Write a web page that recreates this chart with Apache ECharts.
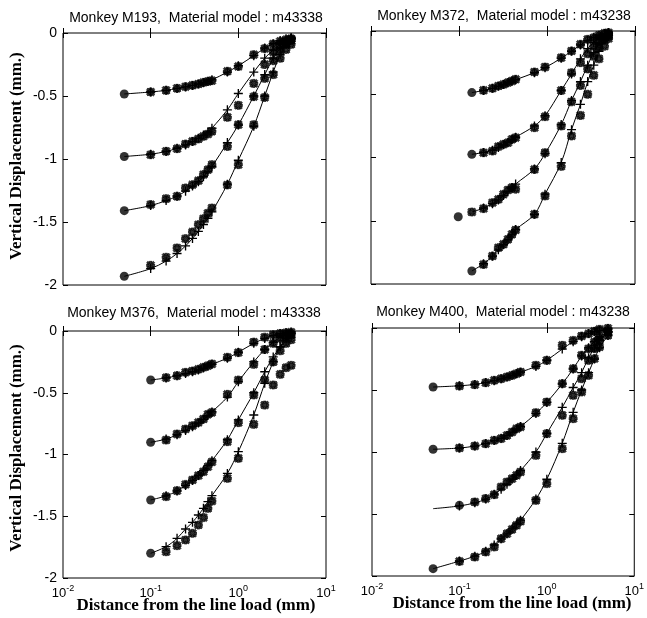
<!DOCTYPE html>
<html>
<head>
<meta charset="utf-8">
<script src="https://cdn.jsdelivr.net/npm/echarts@6/dist/echarts.min.js"></script>
<style>
  html, body { margin: 0; padding: 0; background: #fff; }
  #chart { width: 647px; height: 618px; }
</style>
</head>
<body>
<div id="chart"></div>
<script>
// ---- Monkey M193 (model m43338) ----
const xM193 = [0.05, 0.1, 0.15, 0.2, 0.25, 0.3, 0.35, 0.4, 0.45, 0.5, 0.75, 1, 1.5, 2, 2.5, 3, 3.5, 4];
const startM193 = [[0.05, -0.484], [0.05, -0.98], [0.05, -1.41], [0.05, -1.931]];
const fitM193_1 = [-0.484, -0.468, -0.455, -0.44, -0.428, -0.416, -0.405, -0.394, -0.383, -0.372, -0.31, -0.26, -0.18, -0.12, -0.085, -0.06, -0.045, -0.035];
const fitM193_2 = [-0.98, -0.962, -0.94, -0.915, -0.888, -0.862, -0.836, -0.81, -0.785, -0.755, -0.61, -0.48, -0.31, -0.2, -0.135, -0.09, -0.062, -0.042];
const fitM193_3 = [-1.41, -1.37, -1.33, -1.295, -1.255, -1.215, -1.18, -1.14, -1.1, -1.06, -0.87, -0.73, -0.5, -0.33, -0.2, -0.12, -0.07, -0.045];
const fitM193_4 = [-1.931, -1.87, -1.81, -1.75, -1.69, -1.63, -1.575, -1.52, -1.47, -1.42, -1.2, -1.01, -0.74, -0.5, -0.31, -0.17, -0.09, -0.045];
const obsM193_1 = [null, -0.468, -0.455, -0.439, -0.426, -0.415, -0.405, -0.392, -0.384, -0.378, -0.304, -0.265, -0.172, -0.124, -0.087, -0.066, -0.053, -0.045];
const obsM193_2 = [null, -0.966, -0.939, -0.918, -0.881, -0.86, -0.841, -0.82, -0.802, -0.78, -0.669, -0.574, -0.4, -0.25, -0.15, -0.1, -0.07, -0.05];
const obsM193_3 = [null, -1.362, -1.315, -1.296, -1.23, -1.204, -1.172, -1.124, -1.085, -1.045, -0.9, -0.728, -0.505, -0.36, -0.22, -0.14, -0.09, -0.06];
const obsM193_4 = [null, -1.844, -1.78, -1.706, -1.632, -1.579, -1.521, -1.474, -1.43, -1.389, -1.206, -1.045, -0.728, -0.511, -0.33, -0.2, -0.13, -0.09];

// ---- Monkey M372 (model m43238) ----
const xM372 = [0.14, 0.19, 0.24, 0.28, 0.32, 0.36, 0.4, 0.44, 0.72, 0.95, 1.45, 1.9, 2.4, 2.9, 3.4, 3.9, 4.5, 5];
const startM372 = [[0.14, -0.487], [0.14, -0.975], [0.098, -1.468], [0.14, -1.897]];
const fitM372_1 = [-0.487, -0.47, -0.453, -0.437, -0.423, -0.41, -0.397, -0.385, -0.33, -0.29, -0.215, -0.16, -0.11, -0.075, -0.05, -0.033, -0.02, -0.012];
const fitM372_2 = [-0.975, -0.96, -0.943, -0.92, -0.9, -0.88, -0.86, -0.84, -0.75, -0.67, -0.47, -0.34, -0.22, -0.14, -0.09, -0.06, -0.035, -0.02];
const fitM372_3 = [-1.431, -1.4, -1.365, -1.335, -1.3, -1.27, -1.24, -1.21, -1.09, -0.97, -0.74, -0.55, -0.4, -0.27, -0.17, -0.1, -0.05, -0.02];
const fitM372_4 = [-1.897, -1.84, -1.78, -1.73, -1.69, -1.65, -1.61, -1.57, -1.449, -1.29, -1.04, -0.78, -0.58, -0.4, -0.27, -0.16, -0.07, -0.03];
const obsM372_1 = [null, -0.469, -0.453, -0.435, -0.422, -0.408, -0.395, -0.382, -0.324, -0.285, -0.211, -0.158, -0.105, -0.066, -0.053, -0.034, -0.018, -0.013];
const obsM372_2 = [null, -0.962, -0.949, -0.914, -0.896, -0.883, -0.856, -0.843, -0.764, -0.677, -0.47, -0.33, -0.25, -0.18, -0.12, -0.08, -0.05, -0.03];
const obsM372_3 = [-1.431, -1.404, -1.357, -1.331, -1.291, -1.257, -1.238, -1.25, -1.094, -0.962, -0.751, -0.56, -0.43, -0.3, -0.2, -0.13, -0.07, -0.04];
const obsM372_4 = [null, -1.845, -1.779, -1.713, -1.686, -1.647, -1.607, -1.573, -1.449, -1.304, -1.07, -0.83, -0.667, -0.5, -0.35, -0.22, -0.12, -0.06];

// ---- Monkey M376 (model m43338) ----
const xM376 = [0.1, 0.15, 0.2, 0.25, 0.3, 0.35, 0.4, 0.45, 0.5, 0.75, 1, 1.5, 2, 2.5, 3, 3.5, 4];
const startM376 = [[0.1, -0.397], [0.1, -0.901], [0.1, -1.368], [0.1, -1.8]];
const fitM376_1 = [-0.397, -0.38, -0.362, -0.345, -0.33, -0.315, -0.3, -0.285, -0.27, -0.22, -0.172, -0.1, -0.06, -0.035, -0.02, -0.012, -0.008];
const fitM376_2 = [-0.901, -0.875, -0.84, -0.805, -0.775, -0.745, -0.715, -0.685, -0.655, -0.535, -0.41, -0.25, -0.15, -0.09, -0.05, -0.03, -0.02];
const fitM376_3 = [-1.368, -1.335, -1.295, -1.25, -1.21, -1.17, -1.13, -1.09, -1.05, -0.88, -0.72, -0.5, -0.33, -0.21, -0.13, -0.08, -0.05];
const fitM376_4 = [-1.8, -1.746, -1.679, -1.603, -1.549, -1.49, -1.436, -1.382, -1.333, -1.153, -0.977, -0.68, -0.424, -0.248, -0.127, -0.06, -0.02];
const obsM376_1 = [null, -0.378, -0.362, -0.335, -0.324, -0.31, -0.294, -0.281, -0.267, -0.213, -0.175, -0.09, -0.05, -0.03, -0.02, -0.015, -0.01];
const obsM376_2 = [null, -0.883, -0.834, -0.794, -0.767, -0.74, -0.713, -0.675, -0.659, -0.513, -0.397, -0.27, -0.15, -0.1, -0.06, -0.04, -0.03];
const obsM376_3 = [null, -1.341, -1.293, -1.242, -1.206, -1.171, -1.139, -1.099, -1.06, -0.896, -0.742, -0.518, -0.397, -0.25, -0.16, -0.1, -0.07];
const obsM376_4 = [null, -1.787, -1.738, -1.692, -1.638, -1.571, -1.511, -1.436, -1.377, -1.193, -1.031, -0.756, -0.6, -0.437, -0.351, -0.297, -0.278];

// ---- Monkey M400 (model m43238) ----
const xM400 = [0.05, 0.1, 0.15, 0.2, 0.25, 0.3, 0.35, 0.4, 0.45, 0.5, 0.75, 1, 1.5, 2, 2.5, 3, 3.5, 4, 5];
const startM400 = [[0.05, -0.476], [0.05, -0.978], [0.1, -1.43], [0.05, -1.941]];
const fitM400_1 = [-0.476, -0.466, -0.455, -0.44, -0.425, -0.41, -0.396, -0.382, -0.369, -0.356, -0.31, -0.26, -0.17, -0.11, -0.07, -0.045, -0.03, -0.02, -0.005];
const fitM400_2 = [-0.978, -0.968, -0.952, -0.932, -0.908, -0.89, -0.866, -0.84, -0.815, -0.795, -0.69, -0.6, -0.45, -0.33, -0.225, -0.16, -0.11, -0.07, -0.03];
const fitM400_3 = [-1.457, -1.435, -1.41, -1.38, -1.34, -1.3, -1.26, -1.22, -1.185, -1.15, -1.0, -0.85, -0.64, -0.48, -0.36, -0.24, -0.16, -0.1, -0.03];
const fitM400_4 = [-1.941, -1.88, -1.84, -1.8, -1.75, -1.7, -1.66, -1.62, -1.58, -1.55, -1.38, -1.22, -0.93, -0.68, -0.5, -0.36, -0.25, -0.16, -0.06];
const obsM400_1 = [null, -0.468, -0.457, -0.441, -0.422, -0.409, -0.395, -0.382, -0.368, -0.355, -0.301, -0.261, -0.14, -0.1, -0.065, -0.046, -0.027, -0.011, -0.003];
const obsM400_2 = [null, -0.968, -0.952, -0.933, -0.906, -0.892, -0.866, -0.839, -0.812, -0.798, -0.683, -0.597, -0.449, -0.328, -0.22, -0.167, -0.113, -0.073, -0.032];
const obsM400_3 = [null, null, -1.403, -1.376, -1.344, -1.282, -1.242, -1.215, -1.188, -1.161, -1.027, -0.852, -0.704, -0.543, -0.409, -0.261, -0.167, -0.099, -0.032];
const obsM400_4 = [null, -1.882, -1.847, -1.806, -1.766, -1.699, -1.659, -1.624, -1.591, -1.559, -1.39, -1.255, -0.973, -0.731, -0.516, -0.382, -0.247, -0.153, -0.059];

// Axis ticks
const yTicks = [-2, -1.5, -1, -0.5, 0];
const xRange = [0.01, 10];

const panels = [
  { title: 'Monkey M193,  Material model : m43338', x: xM193, start: startM193,
    fits: [fitM193_1, fitM193_2, fitM193_3, fitM193_4], obs: [obsM193_1, obsM193_2, obsM193_3, obsM193_4],
    box: { left: 63, top: 33, width: 263, height: 252 }, titleAt: [196, 18], yLab: true, xLab: false },
  { title: 'Monkey M372,  Material model : m43238', x: xM372, start: startM372,
    fits: [fitM372_1, fitM372_2, fitM372_3, fitM372_4], obs: [obsM372_1, obsM372_2, obsM372_3, obsM372_4],
    box: { left: 371, top: 31, width: 264, height: 253 }, titleAt: [504, 16], yLab: false, xLab: false },
  { title: 'Monkey M376,  Material model : m43338', x: xM376, start: startM376,
    fits: [fitM376_1, fitM376_2, fitM376_3, fitM376_4], obs: [obsM376_1, obsM376_2, obsM376_3, obsM376_4],
    box: { left: 63, top: 331, width: 263, height: 247 }, titleAt: [194, 313], yLab: true, xLab: true },
  { title: 'Monkey M400,  Material model : m43238', x: xM400, start: startM400,
    fits: [fitM400_1, fitM400_2, fitM400_3, fitM400_4], obs: [obsM400_1, obsM400_2, obsM400_3, obsM400_4],
    box: { left: 372, top: 328, width: 266, height: 248 }, titleAt: [503, 312], yLab: false, xLab: true }
];

// Marker shapes: thin plus for model points, bold asterisk for measurements
const PLUS = 'path://M4,0H5.4V4H9.4V5.4H5.4V9.4H4V5.4H0V4H4Z';
const STAR = 'path://M3.3,0H6.7V3.3H10V6.7H6.7V10H3.3V6.7H0V3.3H3.3Z M1.6,0L5,3.2L8.4,0L10,1.6L6.8,5L10,8.4L8.4,10L5,6.8L1.6,10L0,8.4L3.2,5L0,1.6Z';

const INK = '#000';
const sansFont = 'Liberation Sans, Arial, sans-serif';
const serifFont = 'Liberation Serif, Times New Roman, serif';

const grids = [], xAxes = [], yAxes = [], series = [], graphics = [];

panels.forEach((p, k) => {
  grids.push(Object.assign({ show: true, borderColor: INK, borderWidth: 1, backgroundColor: 'transparent' }, p.box));

  const xBase = {
    type: 'log', logBase: 10, min: xRange[0], max: xRange[1], gridIndex: k,
    axisLine: { show: false }, splitLine: { show: false },
    axisTick: { show: true, inside: true, length: 5, lineStyle: { color: INK, width: 1 } }
  };
  xAxes.push(Object.assign({}, xBase, {
    position: 'bottom',
    axisLabel: {
      show: p.xLab, margin: 6, color: INK,
      formatter: v => '10{s|' + Math.round(Math.log10(v)) + '}',
      rich: {
        s: { fontSize: 9, fontFamily: sansFont, color: INK, verticalAlign: 'top', lineHeight: 18 }
      },
      fontSize: 13, fontFamily: sansFont, lineHeight: 18
    }
  }));
  xAxes.push(Object.assign({}, xBase, { position: 'top', axisLabel: { show: false } }));

  const yBase = {
    type: 'value', min: yTicks[0], max: yTicks[yTicks.length - 1], interval: 0.5, gridIndex: k,
    axisLine: { show: false }, splitLine: { show: false },
    axisTick: { show: true, inside: true, length: 5, lineStyle: { color: INK, width: 1 } }
  };
  yAxes.push(Object.assign({}, yBase, {
    position: 'left',
    axisLabel: { show: p.yLab, color: INK, fontSize: 14, fontFamily: sansFont, margin: 6,
      formatter: v => (v === 0 ? '0' : String(v)) }
  }));
  yAxes.push(Object.assign({}, yBase, { position: 'right', axisLabel: { show: false } }));

  const xi = k * 2, yi = k * 2;

  // fitted curves with model points
  p.fits.forEach(fit => {
    series.push({
      type: 'line', xAxisIndex: xi, yAxisIndex: yi, smooth: 0.35,
      showAllSymbol: true, symbol: PLUS, symbolSize: 9,
      itemStyle: { color: INK }, lineStyle: { color: INK, width: 1 },
      data: p.x.map((xv, i) => (i === 0 ? { value: [xv, fit[i]], symbol: 'none' } : [xv, fit[i]])),
      z: 3, silent: true
    });
  });

  // measured points
  const pts = [];
  p.obs.forEach(arr => arr.forEach((yv, i) => { if (yv !== null) pts.push([p.x[i], yv]); }));
  series.push({
    type: 'scatter', xAxisIndex: xi, yAxisIndex: yi, symbol: STAR, symbolSize: 8,
    itemStyle: { color: INK, borderColor: INK, borderWidth: 0.8 }, data: pts, z: 4, silent: true
  });

  // first measurement of each curve
  series.push({
    type: 'scatter', xAxisIndex: xi, yAxisIndex: yi, symbol: 'circle', symbolSize: 9,
    itemStyle: { color: INK }, data: p.start, z: 5, silent: true
  });

  graphics.push({
    type: 'text', x: p.titleAt[0], y: p.titleAt[1],
    style: { text: p.title, fill: INK, font: '14px ' + sansFont, textAlign: 'center', textVerticalAlign: 'middle' }
  });
});

// axis titles
graphics.push({ type: 'text', x: 17, y: 156, rotation: Math.PI / 2,
  style: { text: 'Vertical Displacement (mm.)', fill: INK, font: 'bold 17px ' + serifFont, textAlign: 'center', textVerticalAlign: 'middle' } });
graphics.push({ type: 'text', x: 17, y: 448, rotation: Math.PI / 2,
  style: { text: 'Vertical Displacement (mm.)', fill: INK, font: 'bold 17px ' + serifFont, textAlign: 'center', textVerticalAlign: 'middle' } });
graphics.push({ type: 'text', x: 196, y: 606,
  style: { text: 'Distance from the line load (mm)', fill: INK, font: 'bold 17px ' + serifFont, textAlign: 'center', textVerticalAlign: 'middle' } });
graphics.push({ type: 'text', x: 512, y: 604,
  style: { text: 'Distance from the line load (mm)', fill: INK, font: 'bold 17px ' + serifFont, textAlign: 'center', textVerticalAlign: 'middle' } });

const chart = echarts.init(document.getElementById('chart'), null, { renderer: 'canvas' });
chart.setOption({
  animation: false,
  backgroundColor: '#fff',
  grid: grids,
  xAxis: xAxes,
  yAxis: yAxes,
  series: series,
  graphic: graphics
});
</script>
</body>
</html>
